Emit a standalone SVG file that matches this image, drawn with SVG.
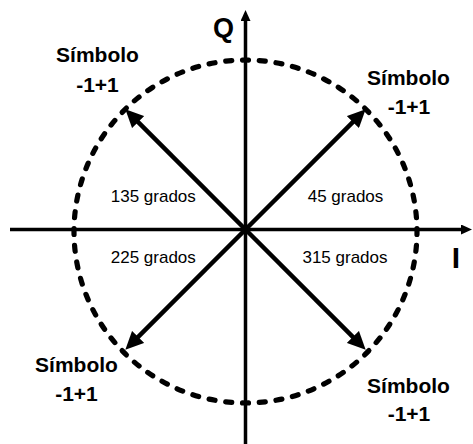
<svg xmlns="http://www.w3.org/2000/svg" width="473" height="444" viewBox="0 0 473 444">
<style>
.sym{font-family:"Liberation Sans",Arial,sans-serif;font-weight:bold;font-size:21px;fill:#000;text-anchor:middle}
.deg{font-family:"Liberation Sans",Arial,sans-serif;font-size:17px;fill:#000;text-anchor:middle}
.ax{font-family:"Liberation Sans",Arial,sans-serif;font-weight:bold;fill:#000;text-anchor:middle}
.axis{stroke:#000;stroke-width:3.5;fill:none}
.vec{stroke:#000;stroke-width:4.5;fill:none}
</style>
<defs>
<marker id="ah" viewBox="0 0 18 17" refX="9" refY="8.5" markerWidth="18" markerHeight="17" markerUnits="userSpaceOnUse" orient="auto">
<path d="M0,0 L18,8.5 L0,17 z" fill="#000"/>
</marker>
<marker id="axh" viewBox="0 0 11 10" refX="3" refY="5" markerWidth="11" markerHeight="10" markerUnits="userSpaceOnUse" orient="auto">
<path d="M0,0 L11,5 L0,10 z" fill="#000"/>
</marker>
</defs>
<g id="circle">
<circle cx="245.5" cy="231.5" r="171.5" fill="none" stroke="#000" stroke-width="5.2" stroke-linecap="round" pathLength="640" stroke-dasharray="3.6 6.4" stroke-dashoffset="1.8"/>
</g>
<g id="connectors">
<line class="axis" x1="10" y1="229.5" x2="464" y2="229.5" marker-end="url(#axh)"/>
<line class="axis" x1="245.5" y1="444" x2="245.5" y2="18" marker-end="url(#axh)"/>
<line class="vec" x1="245.5" y1="229.5" x2="359.3" y2="115.7" marker-end="url(#ah)"/>
<line class="vec" x1="245.5" y1="229.5" x2="131.7" y2="115.7" marker-end="url(#ah)"/>
<line class="vec" x1="245.5" y1="229.5" x2="131.7" y2="343.3" marker-end="url(#ah)"/>
<line class="vec" x1="245.5" y1="229.5" x2="359.3" y2="343.3" marker-end="url(#ah)"/>
</g>
<g id="axis-labels">
<text class="ax" x="223.5" y="37" font-size="27">Q</text>
<text class="ax" x="456" y="267.5" font-size="30">I</text>
</g>
<g id="sym-tl">
<text class="sym" x="97.5" y="61.7">Símbolo</text>
<text class="sym" x="97.5" y="91.7">-1+1</text>
</g>
<g id="sym-tr">
<text class="sym" x="408.5" y="85">Símbolo</text>
<text class="sym" x="409" y="113.5">-1+1</text>
</g>
<g id="sym-bl">
<text class="sym" x="76.5" y="371.7">Símbolo</text>
<text class="sym" x="76.5" y="400.7">-1+1</text>
</g>
<g id="sym-br">
<text class="sym" x="408.5" y="392.7">Símbolo</text>
<text class="sym" x="409" y="420.7">-1+1</text>
</g>
<g id="deg-labels">
<text class="deg" x="153.3" y="201.7">135 grados</text>
<text class="deg" x="345.5" y="201.7">45 grados</text>
<text class="deg" x="153.3" y="263.3">225 grados</text>
<text class="deg" x="345" y="263.3">315 grados</text>
</g>
</svg>
